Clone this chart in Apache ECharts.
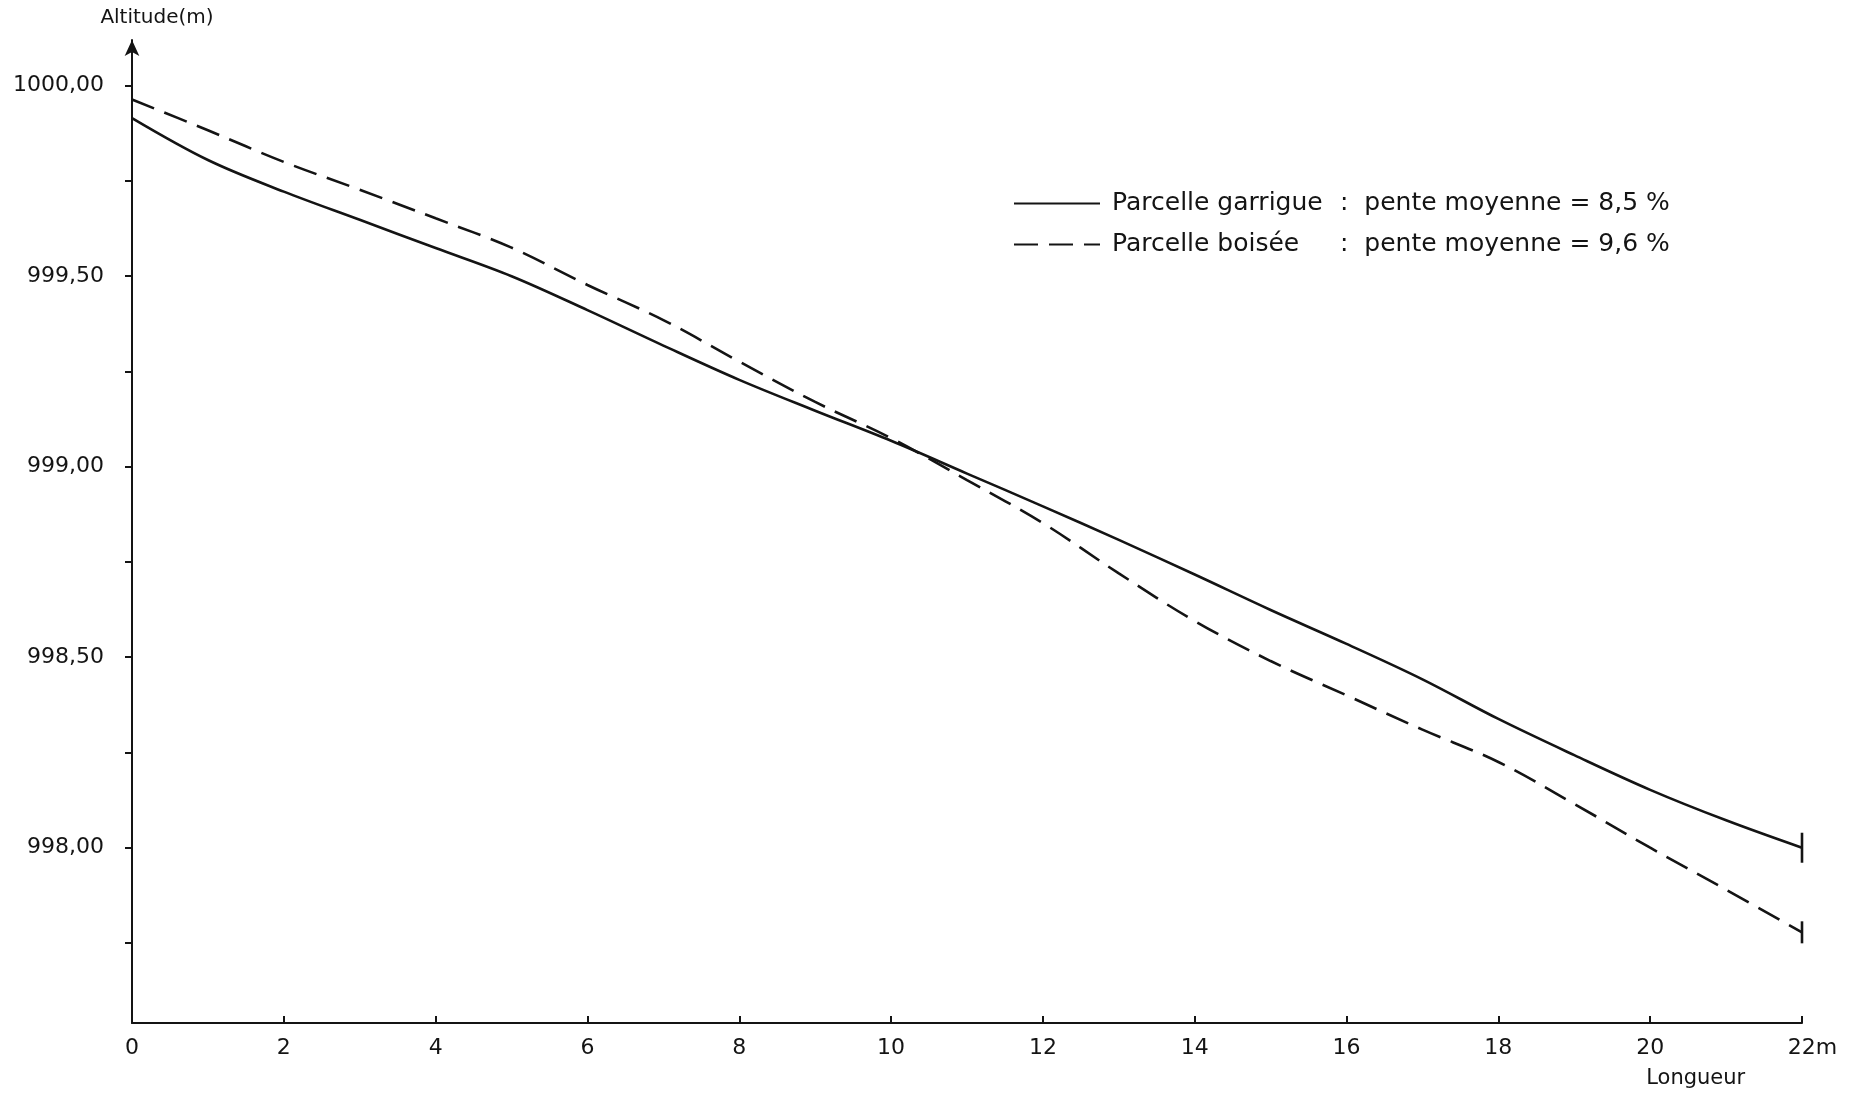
<!DOCTYPE html>
<html>
<head>
<meta charset="utf-8">
<script src="https://cdn.jsdelivr.net/npm/echarts@6/dist/echarts.min.js"></script>
<style>
html,body{margin:0;padding:0;background:#fff;}
#c{width:1859px;height:1093px;}
</style>
</head>
<body>
<div id="c"></div>
<script>
// ---- data ----
const longueur = [0,1,2,3,4,5,6,7,8,9,10,11,12,13,14,15,16,17,18,19,20,21,22];
const garrigue = [999.915,999.805,999.722,999.648,999.574,999.500,999.411,999.318,999.228,999.147,999.068,998.982,998.896,998.808,998.717,998.624,998.535,998.442,998.338,998.243,998.152,998.072,998.000];
const boisee   = [999.964,999.883,999.800,999.727,999.652,999.575,999.477,999.385,999.276,999.170,999.075,998.965,998.852,998.720,998.595,998.490,998.400,998.310,998.225,998.115,998.000,997.890,997.778];
const xTicks = [0,2,4,6,8,10,12,14,16,18,20,22];
const yTickValues = [997.75,998.00,998.25,998.50,998.75,999.00,999.25,999.50,999.75,1000.00];
const yLabelValues = [998.00,998.50,999.00,999.50,1000.00];
const yTickLabels = ['998,00','998,50','999,00','999,50','1000,00'];
const seriesNames = ['Parcelle garrigue','Parcelle boisée'];
const penteLabels = [':  pente moyenne = 8,5 %',':  pente moyenne = 9,6 %'];

const FONT = 'DejaVu Sans';
const INK = '#141414';

function pairs(values){
  return values.map((v,i)=>[longueur[i], v]);
}
function endBar(values, size){
  const i = values.length-1;
  return {symbol:'rect', symbolSize:size, silent:true,
    itemStyle:{color:INK}, label:{show:false},
    data:[{coord:[longueur[i], values[i]]}]};
}

const chart = echarts.init(document.getElementById('c'));
chart.setOption({
  backgroundColor:'#fff',
  animation:false,
  grid:{left:132, right:57, top:40, bottom:70, containLabel:false, outerBoundsMode:'none'},
  legend:{
    orient:'vertical', left:1008, top:186,
    itemWidth:86, itemHeight:14, itemGap:16,
    itemStyle:{opacity:0},
    data:seriesNames,
    textStyle:{fontFamily:FONT, fontSize:25, color:INK,
      rich:{
        a:{fontFamily:FONT, fontSize:25, color:INK, width:228, padding:[0,0,0,7]},
        b:{fontFamily:FONT, fontSize:25, color:INK}
      }},
    formatter:function(name){
      const i = seriesNames.indexOf(name);
      return '{a|' + name + '}{b|' + penteLabels[i] + '}';
    }
  },
  xAxis:{
    type:'value', min:0, max:22, interval:2,
    axisLine:{show:true, lineStyle:{color:INK, width:2}},
    axisTick:{show:true, inside:true, length:7, lineStyle:{color:INK, width:2}},
    splitLine:{show:false},
    axisLabel:{
      margin:14, fontFamily:FONT, fontSize:22, color:INK,
      customValues:xTicks,
      formatter:function(v){ return v===22 ? '{p| }22m' : String(v); },
      rich:{p:{width:21, fontSize:22, fontFamily:FONT}}
    }
  },
  yAxis:{
    type:'value', min:997.54, max:1000.12,
    name:'Altitude(m)', nameLocation:'end', nameGap:12,
    nameTextStyle:{fontFamily:FONT, fontSize:20, color:INK, padding:[0,0,0,50]},
    axisLine:{show:true, symbol:['none','arrow'], symbolSize:[11,16], lineStyle:{color:INK, width:2}},
    axisTick:{show:true, length:7, customValues:yTickValues, lineStyle:{color:INK, width:2}},
    splitLine:{show:false},
    axisLabel:{
      margin:28, fontFamily:FONT, fontSize:22, color:INK,
      customValues:yLabelValues,
      formatter:function(v){
        const i = yLabelValues.findIndex(t=>Math.abs(t-v)<1e-6);
        return i>=0 ? yTickLabels[i] : '';
      }
    }
  },
  series:[
    {name:seriesNames[0], type:'line', smooth:0.35, symbol:'none', showSymbol:false,
     lineStyle:{color:INK, width:2.6, type:'solid'}, itemStyle:{color:INK},
     markPoint:endBar(garrigue, [2.6, 30]),
     data:pairs(garrigue)},
    {name:seriesNames[1], type:'line', smooth:0.35, symbol:'none', showSymbol:false,
     lineStyle:{color:INK, width:2.6, type:[24,11]}, itemStyle:{color:INK},
     markPoint:endBar(boisee, [2.6, 22]),
     data:pairs(boisee)}
  ]
});

// axis caption "Longueur" positioned through the axis scale
const lx = chart.convertToPixel({xAxisIndex:0}, 20.6);
const ly = chart.convertToPixel({yAxisIndex:0}, 997.54) + 56;
chart.setOption({
  graphic:[{type:'text', x:lx, y:ly,
    style:{text:'Longueur', fontFamily:FONT, fontSize:21, fill:INK, textAlign:'center', textVerticalAlign:'middle'}}]
});
</script>
</body>
</html>
